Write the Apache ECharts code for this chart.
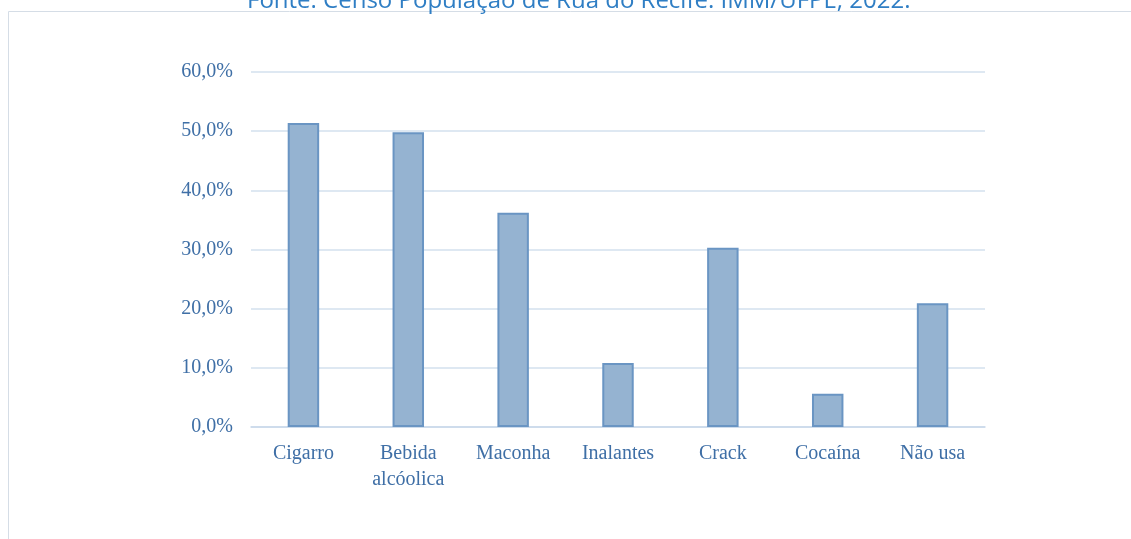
<!DOCTYPE html>
<html>
<head>
<meta charset="utf-8">
<script src="https://cdn.jsdelivr.net/npm/echarts@6/dist/echarts.min.js"></script>
<style>
  html, body { margin: 0; padding: 0; background: #fff; }
  #chart { width: 1131px; height: 539px; }
</style>
</head>
<body>
<div id="chart"></div>
<script>
var chartDom = document.getElementById('chart');
var myChart = echarts.init(chartDom);

// dados
const categories = ['Cigarro', 'Bebida\nalcóolica', 'Maconha', 'Inalantes', 'Crack', 'Cocaína', 'Não usa'];
const values = [51.4, 49.8, 36.2, 10.8, 30.3, 5.6, 20.9];
const sourceText = 'Fonte: Censo População de Rua do Recife. IMM/UFPE, 2022.';

const labelColor = '#3f6fa6';
const serif = '"Liberation Serif", "DejaVu Serif", serif';

var option = {
  animation: false,
  title: {
    text: sourceText,
    left: 242,
    top: -16,
    textStyle: {
      fontFamily: '"Open Sans", "Noto Sans", sans-serif',
      fontWeight: 'normal',
      fontSize: 24,
      color: '#2f7ec4'
    }
  },
  graphic: [
    {
      type: 'rect',
      shape: { x: 8.5, y: 11.5, width: 1200, height: 600 },
      style: { fill: 'none', stroke: '#d5dde6', lineWidth: 1 },
      silent: true
    }
  ],
  grid: {
    left: 251,
    right: 146,
    top: 72,
    bottom: 112,
    containLabel: false
  },
  xAxis: {
    type: 'category',
    data: categories,
    axisTick: { show: false },
    axisLine: { lineStyle: { color: '#c9d8ea', width: 1.5 } },
    axisLabel: {
      color: labelColor,
      fontFamily: serif,
      fontSize: 20,
      lineHeight: 26,
      margin: 14
    }
  },
  yAxis: {
    type: 'value',
    min: 0,
    max: 60,
    interval: 10,
    axisLine: { show: false },
    axisTick: { show: false },
    splitLine: { lineStyle: { color: '#d3e0ee', width: 1.5 } },
    axisLabel: {
      color: labelColor,
      fontFamily: serif,
      fontSize: 20,
      margin: 18,
      formatter: function (v) { return v.toFixed(1).replace('.', ',') + '%'; }
    }
  },
  series: [
    {
      type: 'bar',
      data: values,
      barWidth: '30%',
      itemStyle: {
        color: '#95b3d1',
        borderColor: '#6a95c3',
        borderWidth: 2
      }
    }
  ]
};

option && myChart.setOption(option);
</script>
</body>
</html>
